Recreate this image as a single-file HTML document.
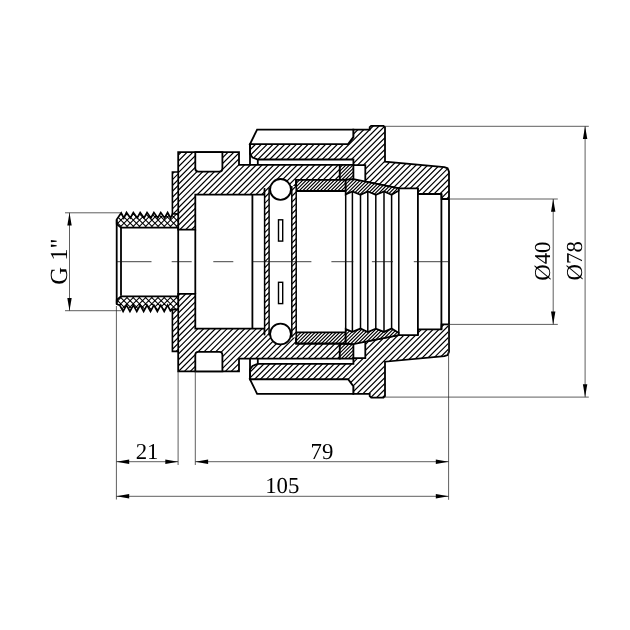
<!DOCTYPE html>
<html><head><meta charset="utf-8"><title>Fitting drawing</title>
<style>
html,body{margin:0;padding:0;background:#fff;}
svg{display:block;will-change:transform;font-family:"Liberation Serif",serif;}
text{fill:#000;text-rendering:geometricPrecision;}
</style></head>
<body>
<svg width="630" height="630" viewBox="0 0 630 630">
<rect x="0" y="0" width="630" height="630" fill="#fff"/>
<clipPath id="c1"><polygon points="178.20,229.60 178.20,152.10 239.00,152.10 239.00,164.80 339.80,164.80 339.80,179.90 296.20,179.90 296.20,189.40 264.60,189.40 264.60,194.70 195.30,194.70 195.30,229.60"/></clipPath><polygon points="178.20,229.60 178.20,152.10 239.00,152.10 239.00,164.80 339.80,164.80 339.80,179.90 296.20,179.90 296.20,189.40 264.60,189.40 264.60,194.70 195.30,194.70 195.30,229.60" fill="#fff"/><path d="M176.50,151.10L97.00,230.60M182.35,151.10L102.85,230.60M188.20,151.10L108.70,230.60M194.05,151.10L114.55,230.60M199.90,151.10L120.40,230.60M205.75,151.10L126.25,230.60M211.60,151.10L132.10,230.60M217.45,151.10L137.95,230.60M223.30,151.10L143.80,230.60M229.15,151.10L149.65,230.60M235.00,151.10L155.50,230.60M240.85,151.10L161.35,230.60M246.70,151.10L167.20,230.60M252.55,151.10L173.05,230.60M258.40,151.10L178.90,230.60M264.25,151.10L184.75,230.60M270.10,151.10L190.60,230.60M275.95,151.10L196.45,230.60M281.80,151.10L202.30,230.60M287.65,151.10L208.15,230.60M293.50,151.10L214.00,230.60M299.35,151.10L219.85,230.60M305.20,151.10L225.70,230.60M311.05,151.10L231.55,230.60M316.90,151.10L237.40,230.60M322.75,151.10L243.25,230.60M328.60,151.10L249.10,230.60M334.45,151.10L254.95,230.60M340.30,151.10L260.80,230.60M346.15,151.10L266.65,230.60M352.00,151.10L272.50,230.60M357.85,151.10L278.35,230.60M363.70,151.10L284.20,230.60M369.55,151.10L290.05,230.60M375.40,151.10L295.90,230.60M381.25,151.10L301.75,230.60M387.10,151.10L307.60,230.60M392.95,151.10L313.45,230.60M398.80,151.10L319.30,230.60M404.65,151.10L325.15,230.60M410.50,151.10L331.00,230.60M416.35,151.10L336.85,230.60M422.20,151.10L342.70,230.60" clip-path="url(#c1)" stroke="#000" stroke-width="1.2" fill="none"/><polygon points="178.20,229.60 178.20,152.10 239.00,152.10 239.00,164.80 339.80,164.80 339.80,179.90 296.20,179.90 296.20,189.40 264.60,189.40 264.60,194.70 195.30,194.70 195.30,229.60" fill="none" stroke="#000" stroke-width="1.8" stroke-linejoin="miter" />
<clipPath id="c2"><polygon points="250.00,144.10 348.10,144.10 353.30,137.10 353.30,129.60 369.70,129.60 369.70,127.20 371.20,125.80 383.50,125.80 385.00,127.20 385.00,161.70 444.40,167.20 447.60,168.30 449.00,171.70 449.00,199.00 441.60,199.00 441.40,194.00 417.90,194.00 417.90,188.30 398.80,188.30 365.30,181.70 365.30,165.20 353.40,165.20 353.40,159.50 257.80,159.50 252.50,157.50 250.00,154.00"/></clipPath><polygon points="250.00,144.10 348.10,144.10 353.30,137.10 353.30,129.60 369.70,129.60 369.70,127.20 371.20,125.80 383.50,125.80 385.00,127.20 385.00,161.70 444.40,167.20 447.60,168.30 449.00,171.70 449.00,199.00 441.60,199.00 441.40,194.00 417.90,194.00 417.90,188.30 398.80,188.30 365.30,181.70 365.30,165.20 353.40,165.20 353.40,159.50 257.80,159.50 252.50,157.50 250.00,154.00" fill="#fff"/><path d="M251.60,124.80L176.40,200.00M257.45,124.80L182.25,200.00M263.30,124.80L188.10,200.00M269.15,124.80L193.95,200.00M275.00,124.80L199.80,200.00M280.85,124.80L205.65,200.00M286.70,124.80L211.50,200.00M292.55,124.80L217.35,200.00M298.40,124.80L223.20,200.00M304.25,124.80L229.05,200.00M310.10,124.80L234.90,200.00M315.95,124.80L240.75,200.00M321.80,124.80L246.60,200.00M327.65,124.80L252.45,200.00M333.50,124.80L258.30,200.00M339.35,124.80L264.15,200.00M345.20,124.80L270.00,200.00M351.05,124.80L275.85,200.00M356.90,124.80L281.70,200.00M362.75,124.80L287.55,200.00M368.60,124.80L293.40,200.00M374.45,124.80L299.25,200.00M380.30,124.80L305.10,200.00M386.15,124.80L310.95,200.00M392.00,124.80L316.80,200.00M397.85,124.80L322.65,200.00M403.70,124.80L328.50,200.00M409.55,124.80L334.35,200.00M415.40,124.80L340.20,200.00M421.25,124.80L346.05,200.00M427.10,124.80L351.90,200.00M432.95,124.80L357.75,200.00M438.80,124.80L363.60,200.00M444.65,124.80L369.45,200.00M450.50,124.80L375.30,200.00M456.35,124.80L381.15,200.00M462.20,124.80L387.00,200.00M468.05,124.80L392.85,200.00M473.90,124.80L398.70,200.00M479.75,124.80L404.55,200.00M485.60,124.80L410.40,200.00M491.45,124.80L416.25,200.00M497.30,124.80L422.10,200.00M503.15,124.80L427.95,200.00M509.00,124.80L433.80,200.00M514.85,124.80L439.65,200.00M520.70,124.80L445.50,200.00M526.55,124.80L451.35,200.00" clip-path="url(#c2)" stroke="#000" stroke-width="1.2" fill="none"/><polygon points="250.00,144.10 348.10,144.10 353.30,137.10 353.30,129.60 369.70,129.60 369.70,127.20 371.20,125.80 383.50,125.80 385.00,127.20 385.00,161.70 444.40,167.20 447.60,168.30 449.00,171.70 449.00,199.00 441.60,199.00 441.40,194.00 417.90,194.00 417.90,188.30 398.80,188.30 365.30,181.70 365.30,165.20 353.40,165.20 353.40,159.50 257.80,159.50 252.50,157.50 250.00,154.00" fill="none" stroke="#000" stroke-width="1.8" stroke-linejoin="miter" />
<polygon points="257.10,129.60 353.30,129.60 353.30,137.10 348.10,144.10 250.00,144.10" fill="#fff" stroke="#000" stroke-width="1.8" stroke-linejoin="miter" />
<clipPath id="c3"><polygon points="339.80,164.80 353.40,164.80 353.40,179.30 339.80,179.90"/></clipPath><polygon points="339.80,164.80 353.40,164.80 353.40,179.30 339.80,179.90" fill="#fff"/><path d="M340.20,163.80L323.10,180.90M343.70,163.80L326.60,180.90M347.20,163.80L330.10,180.90M350.70,163.80L333.60,180.90M354.20,163.80L337.10,180.90M357.70,163.80L340.60,180.90M361.20,163.80L344.10,180.90M364.70,163.80L347.60,180.90M368.20,163.80L351.10,180.90M371.70,163.80L354.60,180.90" clip-path="url(#c3)" stroke="#000" stroke-width="1.15" fill="none"/><polygon points="339.80,164.80 353.40,164.80 353.40,179.30 339.80,179.90" fill="none" stroke="#000" stroke-width="1.8" stroke-linejoin="miter" />
<clipPath id="c4"><polygon points="296.20,179.90 345.70,179.90 345.70,191.00 296.20,191.00"/></clipPath><polygon points="296.20,179.90 345.70,179.90 345.70,191.00 296.20,191.00" fill="#fff"/><path d="M297.10,178.90L284.00,192.00M300.60,178.90L287.50,192.00M304.10,178.90L291.00,192.00M307.60,178.90L294.50,192.00M311.10,178.90L298.00,192.00M314.60,178.90L301.50,192.00M318.10,178.90L305.00,192.00M321.60,178.90L308.50,192.00M325.10,178.90L312.00,192.00M328.60,178.90L315.50,192.00M332.10,178.90L319.00,192.00M335.60,178.90L322.50,192.00M339.10,178.90L326.00,192.00M342.60,178.90L329.50,192.00M346.10,178.90L333.00,192.00M349.60,178.90L336.50,192.00M353.10,178.90L340.00,192.00M356.60,178.90L343.50,192.00M360.10,178.90L347.00,192.00" clip-path="url(#c4)" stroke="#000" stroke-width="1.15" fill="none"/><polygon points="296.20,179.90 345.70,179.90 345.70,191.00 296.20,191.00" fill="none" stroke="#000" stroke-width="1.8" stroke-linejoin="miter" />
<clipPath id="c5"><polygon points="345.70,179.90 353.40,179.20 398.80,188.30 398.80,190.40 391.60,194.80 384.00,191.50 375.80,194.80 367.80,191.40 360.50,194.80 352.40,191.50 345.70,194.30"/></clipPath><polygon points="345.70,179.90 353.40,179.20 398.80,188.30 398.80,190.40 391.60,194.80 384.00,191.50 375.80,194.80 367.80,191.40 360.50,194.80 352.40,191.50 345.70,194.30" fill="#fff"/><path d="M344.80,178.20L327.20,195.80M348.30,178.20L330.70,195.80M351.80,178.20L334.20,195.80M355.30,178.20L337.70,195.80M358.80,178.20L341.20,195.80M362.30,178.20L344.70,195.80M365.80,178.20L348.20,195.80M369.30,178.20L351.70,195.80M372.80,178.20L355.20,195.80M376.30,178.20L358.70,195.80M379.80,178.20L362.20,195.80M383.30,178.20L365.70,195.80M386.80,178.20L369.20,195.80M390.30,178.20L372.70,195.80M393.80,178.20L376.20,195.80M397.30,178.20L379.70,195.80M400.80,178.20L383.20,195.80M404.30,178.20L386.70,195.80M407.80,178.20L390.20,195.80M411.30,178.20L393.70,195.80M414.80,178.20L397.20,195.80M418.30,178.20L400.70,195.80" clip-path="url(#c5)" stroke="#000" stroke-width="1.15" fill="none"/><polygon points="345.70,179.90 353.40,179.20 398.80,188.30 398.80,190.40 391.60,194.80 384.00,191.50 375.80,194.80 367.80,191.40 360.50,194.80 352.40,191.50 345.70,194.30" fill="none" stroke="#000" stroke-width="1.8" stroke-linejoin="miter" />
<clipPath id="c6"><polygon points="172.40,172.00 178.20,172.00 178.20,214.00 172.40,214.00"/></clipPath><polygon points="172.40,172.00 178.20,172.00 178.20,214.00 172.40,214.00" fill="#fff"/><path d="M169.30,171.00L125.30,215.00M175.15,171.00L131.15,215.00M181.00,171.00L137.00,215.00M186.85,171.00L142.85,215.00M192.70,171.00L148.70,215.00M198.55,171.00L154.55,215.00M204.40,171.00L160.40,215.00M210.25,171.00L166.25,215.00M216.10,171.00L172.10,215.00M221.95,171.00L177.95,215.00" clip-path="url(#c6)" stroke="#000" stroke-width="1.2" fill="none"/><polygon points="172.40,172.00 178.20,172.00 178.20,214.00 172.40,214.00" fill="none" stroke="#000" stroke-width="1.6" stroke-linejoin="miter" />
<clipPath id="c7"><polygon points="116.70,224.10 116.70,219.60 121.20,212.90 123.80,218.00 126.50,212.50 130.35,218.00 133.35,212.50 137.20,218.00 140.20,212.50 144.05,218.00 147.05,212.50 150.90,218.00 153.90,212.50 157.75,218.00 160.75,212.50 164.60,218.00 167.60,212.50 170.60,218.00 172.40,214.00 178.20,214.00 178.20,227.60 121.00,227.60"/></clipPath><polygon points="116.70,224.10 116.70,219.60 121.20,212.90 123.80,218.00 126.50,212.50 130.35,218.00 133.35,212.50 137.20,218.00 140.20,212.50 144.05,218.00 147.05,212.50 150.90,218.00 153.90,212.50 157.75,218.00 160.75,212.50 164.60,218.00 167.60,212.50 170.60,218.00 172.40,214.00 178.20,214.00 178.20,227.60 121.00,227.60" fill="#fff"/><path d="M117.10,211.50L100.00,228.60M123.30,211.50L106.20,228.60M129.50,211.50L112.40,228.60M135.70,211.50L118.60,228.60M141.90,211.50L124.80,228.60M148.10,211.50L131.00,228.60M154.30,211.50L137.20,228.60M160.50,211.50L143.40,228.60M166.70,211.50L149.60,228.60M172.90,211.50L155.80,228.60M179.10,211.50L162.00,228.60M185.30,211.50L168.20,228.60M191.50,211.50L174.40,228.60M197.70,211.50L180.60,228.60M99.90,211.50L117.00,228.60M106.10,211.50L123.20,228.60M112.30,211.50L129.40,228.60M118.50,211.50L135.60,228.60M124.70,211.50L141.80,228.60M130.90,211.50L148.00,228.60M137.10,211.50L154.20,228.60M143.30,211.50L160.40,228.60M149.50,211.50L166.60,228.60M155.70,211.50L172.80,228.60M161.90,211.50L179.00,228.60M168.10,211.50L185.20,228.60M174.30,211.50L191.40,228.60M180.50,211.50L197.60,228.60" clip-path="url(#c7)" stroke="#000" stroke-width="1.05" fill="none"/><polygon points="116.70,224.10 116.70,219.60 121.20,212.90 123.80,218.00 126.50,212.50 130.35,218.00 133.35,212.50 137.20,218.00 140.20,212.50 144.05,218.00 147.05,212.50 150.90,218.00 153.90,212.50 157.75,218.00 160.75,212.50 164.60,218.00 167.60,212.50 170.60,218.00 172.40,214.00 178.20,214.00 178.20,227.60 121.00,227.60" fill="none" stroke="#000" stroke-width="1.7" stroke-linejoin="miter" />
<path d="M195.3,152.10 V168.60 Q195.3,171.60 198.3,171.60 H219.4 Q222.4,171.60 222.4,168.60 V152.10 Z" fill="#fff" stroke="#000" stroke-width="1.8"/>
<line x1="250.00" y1="144.10" x2="250.00" y2="164.80" stroke="#000" stroke-width="1.8" />
<line x1="257.80" y1="159.50" x2="257.80" y2="164.80" stroke="#000" stroke-width="1.8" />
<clipPath id="c8"><polygon points="178.20,293.80 178.20,371.30 239.00,371.30 239.00,358.60 339.80,358.60 339.80,343.50 296.20,343.50 296.20,334.00 264.60,334.00 264.60,328.70 195.30,328.70 195.30,293.80"/></clipPath><polygon points="178.20,293.80 178.20,371.30 239.00,371.30 239.00,358.60 339.80,358.60 339.80,343.50 296.20,343.50 296.20,334.00 264.60,334.00 264.60,328.70 195.30,328.70 195.30,293.80" fill="#fff"/><path d="M175.20,292.80L95.70,372.30M181.05,292.80L101.55,372.30M186.90,292.80L107.40,372.30M192.75,292.80L113.25,372.30M198.60,292.80L119.10,372.30M204.45,292.80L124.95,372.30M210.30,292.80L130.80,372.30M216.15,292.80L136.65,372.30M222.00,292.80L142.50,372.30M227.85,292.80L148.35,372.30M233.70,292.80L154.20,372.30M239.55,292.80L160.05,372.30M245.40,292.80L165.90,372.30M251.25,292.80L171.75,372.30M257.10,292.80L177.60,372.30M262.95,292.80L183.45,372.30M268.80,292.80L189.30,372.30M274.65,292.80L195.15,372.30M280.50,292.80L201.00,372.30M286.35,292.80L206.85,372.30M292.20,292.80L212.70,372.30M298.05,292.80L218.55,372.30M303.90,292.80L224.40,372.30M309.75,292.80L230.25,372.30M315.60,292.80L236.10,372.30M321.45,292.80L241.95,372.30M327.30,292.80L247.80,372.30M333.15,292.80L253.65,372.30M339.00,292.80L259.50,372.30M344.85,292.80L265.35,372.30M350.70,292.80L271.20,372.30M356.55,292.80L277.05,372.30M362.40,292.80L282.90,372.30M368.25,292.80L288.75,372.30M374.10,292.80L294.60,372.30M379.95,292.80L300.45,372.30M385.80,292.80L306.30,372.30M391.65,292.80L312.15,372.30M397.50,292.80L318.00,372.30M403.35,292.80L323.85,372.30M409.20,292.80L329.70,372.30M415.05,292.80L335.55,372.30M420.90,292.80L341.40,372.30" clip-path="url(#c8)" stroke="#000" stroke-width="1.2" fill="none"/><polygon points="178.20,293.80 178.20,371.30 239.00,371.30 239.00,358.60 339.80,358.60 339.80,343.50 296.20,343.50 296.20,334.00 264.60,334.00 264.60,328.70 195.30,328.70 195.30,293.80" fill="none" stroke="#000" stroke-width="1.8" stroke-linejoin="miter" />
<clipPath id="c9"><polygon points="250.00,379.30 348.10,379.30 353.30,386.30 353.30,393.80 369.70,393.80 369.70,396.20 371.20,397.60 383.50,397.60 385.00,396.20 385.00,361.70 444.40,356.20 447.60,355.10 449.00,351.70 449.00,324.40 441.60,324.40 441.40,329.40 417.90,329.40 417.90,335.10 398.80,335.10 365.30,341.70 365.30,358.20 353.40,358.20 353.40,363.90 257.80,363.90 252.50,365.90 250.00,369.40"/></clipPath><polygon points="250.00,379.30 348.10,379.30 353.30,386.30 353.30,393.80 369.70,393.80 369.70,396.20 371.20,397.60 383.50,397.60 385.00,396.20 385.00,361.70 444.40,356.20 447.60,355.10 449.00,351.70 449.00,324.40 441.60,324.40 441.40,329.40 417.90,329.40 417.90,335.10 398.80,335.10 365.30,341.70 365.30,358.20 353.40,358.20 353.40,363.90 257.80,363.90 252.50,365.90 250.00,369.40" fill="#fff"/><path d="M251.90,323.40L176.70,398.60M257.75,323.40L182.55,398.60M263.60,323.40L188.40,398.60M269.45,323.40L194.25,398.60M275.30,323.40L200.10,398.60M281.15,323.40L205.95,398.60M287.00,323.40L211.80,398.60M292.85,323.40L217.65,398.60M298.70,323.40L223.50,398.60M304.55,323.40L229.35,398.60M310.40,323.40L235.20,398.60M316.25,323.40L241.05,398.60M322.10,323.40L246.90,398.60M327.95,323.40L252.75,398.60M333.80,323.40L258.60,398.60M339.65,323.40L264.45,398.60M345.50,323.40L270.30,398.60M351.35,323.40L276.15,398.60M357.20,323.40L282.00,398.60M363.05,323.40L287.85,398.60M368.90,323.40L293.70,398.60M374.75,323.40L299.55,398.60M380.60,323.40L305.40,398.60M386.45,323.40L311.25,398.60M392.30,323.40L317.10,398.60M398.15,323.40L322.95,398.60M404.00,323.40L328.80,398.60M409.85,323.40L334.65,398.60M415.70,323.40L340.50,398.60M421.55,323.40L346.35,398.60M427.40,323.40L352.20,398.60M433.25,323.40L358.05,398.60M439.10,323.40L363.90,398.60M444.95,323.40L369.75,398.60M450.80,323.40L375.60,398.60M456.65,323.40L381.45,398.60M462.50,323.40L387.30,398.60M468.35,323.40L393.15,398.60M474.20,323.40L399.00,398.60M480.05,323.40L404.85,398.60M485.90,323.40L410.70,398.60M491.75,323.40L416.55,398.60M497.60,323.40L422.40,398.60M503.45,323.40L428.25,398.60M509.30,323.40L434.10,398.60M515.15,323.40L439.95,398.60M521.00,323.40L445.80,398.60M526.85,323.40L451.65,398.60" clip-path="url(#c9)" stroke="#000" stroke-width="1.2" fill="none"/><polygon points="250.00,379.30 348.10,379.30 353.30,386.30 353.30,393.80 369.70,393.80 369.70,396.20 371.20,397.60 383.50,397.60 385.00,396.20 385.00,361.70 444.40,356.20 447.60,355.10 449.00,351.70 449.00,324.40 441.60,324.40 441.40,329.40 417.90,329.40 417.90,335.10 398.80,335.10 365.30,341.70 365.30,358.20 353.40,358.20 353.40,363.90 257.80,363.90 252.50,365.90 250.00,369.40" fill="none" stroke="#000" stroke-width="1.8" stroke-linejoin="miter" />
<polygon points="257.10,393.80 353.30,393.80 353.30,386.30 348.10,379.30 250.00,379.30" fill="#fff" stroke="#000" stroke-width="1.8" stroke-linejoin="miter" />
<clipPath id="c10"><polygon points="339.80,358.60 353.40,358.60 353.40,344.10 339.80,343.50"/></clipPath><polygon points="339.80,358.60 353.40,358.60 353.40,344.10 339.80,343.50" fill="#fff"/><path d="M340.00,342.50L322.90,359.60M343.50,342.50L326.40,359.60M347.00,342.50L329.90,359.60M350.50,342.50L333.40,359.60M354.00,342.50L336.90,359.60M357.50,342.50L340.40,359.60M361.00,342.50L343.90,359.60M364.50,342.50L347.40,359.60M368.00,342.50L350.90,359.60M371.50,342.50L354.40,359.60" clip-path="url(#c10)" stroke="#000" stroke-width="1.15" fill="none"/><polygon points="339.80,358.60 353.40,358.60 353.40,344.10 339.80,343.50" fill="none" stroke="#000" stroke-width="1.8" stroke-linejoin="miter" />
<clipPath id="c11"><polygon points="296.20,343.50 345.70,343.50 345.70,332.40 296.20,332.40"/></clipPath><polygon points="296.20,343.50 345.70,343.50 345.70,332.40 296.20,332.40" fill="#fff"/><path d="M295.10,331.40L282.00,344.50M298.60,331.40L285.50,344.50M302.10,331.40L289.00,344.50M305.60,331.40L292.50,344.50M309.10,331.40L296.00,344.50M312.60,331.40L299.50,344.50M316.10,331.40L303.00,344.50M319.60,331.40L306.50,344.50M323.10,331.40L310.00,344.50M326.60,331.40L313.50,344.50M330.10,331.40L317.00,344.50M333.60,331.40L320.50,344.50M337.10,331.40L324.00,344.50M340.60,331.40L327.50,344.50M344.10,331.40L331.00,344.50M347.60,331.40L334.50,344.50M351.10,331.40L338.00,344.50M354.60,331.40L341.50,344.50M358.10,331.40L345.00,344.50" clip-path="url(#c11)" stroke="#000" stroke-width="1.15" fill="none"/><polygon points="296.20,343.50 345.70,343.50 345.70,332.40 296.20,332.40" fill="none" stroke="#000" stroke-width="1.8" stroke-linejoin="miter" />
<clipPath id="c12"><polygon points="345.70,343.50 353.40,344.20 398.80,335.10 398.80,333.00 391.60,328.60 384.00,331.90 375.80,328.60 367.80,332.00 360.50,328.60 352.40,331.90 345.70,329.10"/></clipPath><polygon points="345.70,343.50 353.40,344.20 398.80,335.10 398.80,333.00 391.60,328.60 384.00,331.90 375.80,328.60 367.80,332.00 360.50,328.60 352.40,331.90 345.70,329.10" fill="#fff"/><path d="M345.90,327.60L328.30,345.20M349.40,327.60L331.80,345.20M352.90,327.60L335.30,345.20M356.40,327.60L338.80,345.20M359.90,327.60L342.30,345.20M363.40,327.60L345.80,345.20M366.90,327.60L349.30,345.20M370.40,327.60L352.80,345.20M373.90,327.60L356.30,345.20M377.40,327.60L359.80,345.20M380.90,327.60L363.30,345.20M384.40,327.60L366.80,345.20M387.90,327.60L370.30,345.20M391.40,327.60L373.80,345.20M394.90,327.60L377.30,345.20M398.40,327.60L380.80,345.20M401.90,327.60L384.30,345.20M405.40,327.60L387.80,345.20M408.90,327.60L391.30,345.20M412.40,327.60L394.80,345.20M415.90,327.60L398.30,345.20" clip-path="url(#c12)" stroke="#000" stroke-width="1.15" fill="none"/><polygon points="345.70,343.50 353.40,344.20 398.80,335.10 398.80,333.00 391.60,328.60 384.00,331.90 375.80,328.60 367.80,332.00 360.50,328.60 352.40,331.90 345.70,329.10" fill="none" stroke="#000" stroke-width="1.8" stroke-linejoin="miter" />
<clipPath id="c13"><polygon points="172.40,351.40 178.20,351.40 178.20,309.40 172.40,309.40"/></clipPath><polygon points="172.40,351.40 178.20,351.40 178.20,309.40 172.40,309.40" fill="#fff"/><path d="M172.30,308.40L128.30,352.40M178.15,308.40L134.15,352.40M184.00,308.40L140.00,352.40M189.85,308.40L145.85,352.40M195.70,308.40L151.70,352.40M201.55,308.40L157.55,352.40M207.40,308.40L163.40,352.40M213.25,308.40L169.25,352.40M219.10,308.40L175.10,352.40M224.95,308.40L180.95,352.40" clip-path="url(#c13)" stroke="#000" stroke-width="1.2" fill="none"/><polygon points="172.40,351.40 178.20,351.40 178.20,309.40 172.40,309.40" fill="none" stroke="#000" stroke-width="1.6" stroke-linejoin="miter" />
<clipPath id="c14"><polygon points="116.70,299.90 116.70,304.20 119.70,305.20 123.10,311.40 126.50,305.20 129.95,311.40 133.35,305.20 136.80,311.40 140.20,305.20 143.65,311.40 147.05,305.20 150.50,311.40 153.90,305.20 157.35,311.40 160.75,305.20 164.20,311.40 167.60,305.20 170.40,311.00 172.40,309.40 178.20,309.40 178.20,296.40 121.00,296.40"/></clipPath><polygon points="116.70,299.90 116.70,304.20 119.70,305.20 123.10,311.40 126.50,305.20 129.95,311.40 133.35,305.20 136.80,311.40 140.20,305.20 143.65,311.40 147.05,305.20 150.50,311.40 153.90,305.20 157.35,311.40 160.75,305.20 164.20,311.40 167.60,305.20 170.40,311.00 172.40,309.40 178.20,309.40 178.20,296.40 121.00,296.40" fill="#fff"/><path d="M116.80,295.40L99.80,312.40M123.00,295.40L106.00,312.40M129.20,295.40L112.20,312.40M135.40,295.40L118.40,312.40M141.60,295.40L124.60,312.40M147.80,295.40L130.80,312.40M154.00,295.40L137.00,312.40M160.20,295.40L143.20,312.40M166.40,295.40L149.40,312.40M172.60,295.40L155.60,312.40M178.80,295.40L161.80,312.40M185.00,295.40L168.00,312.40M191.20,295.40L174.20,312.40M197.40,295.40L180.40,312.40M100.00,295.40L117.00,312.40M106.20,295.40L123.20,312.40M112.40,295.40L129.40,312.40M118.60,295.40L135.60,312.40M124.80,295.40L141.80,312.40M131.00,295.40L148.00,312.40M137.20,295.40L154.20,312.40M143.40,295.40L160.40,312.40M149.60,295.40L166.60,312.40M155.80,295.40L172.80,312.40M162.00,295.40L179.00,312.40M168.20,295.40L185.20,312.40M174.40,295.40L191.40,312.40M180.60,295.40L197.60,312.40" clip-path="url(#c14)" stroke="#000" stroke-width="1.05" fill="none"/><polygon points="116.70,299.90 116.70,304.20 119.70,305.20 123.10,311.40 126.50,305.20 129.95,311.40 133.35,305.20 136.80,311.40 140.20,305.20 143.65,311.40 147.05,305.20 150.50,311.40 153.90,305.20 157.35,311.40 160.75,305.20 164.20,311.40 167.60,305.20 170.40,311.00 172.40,309.40 178.20,309.40 178.20,296.40 121.00,296.40" fill="none" stroke="#000" stroke-width="1.7" stroke-linejoin="miter" />
<path d="M195.3,371.30 V354.80 Q195.3,351.80 198.3,351.80 H219.4 Q222.4,351.80 222.4,354.80 V371.30 Z" fill="#fff" stroke="#000" stroke-width="1.8"/>
<line x1="250.00" y1="379.30" x2="250.00" y2="358.60" stroke="#000" stroke-width="1.8" />
<line x1="257.80" y1="363.90" x2="257.80" y2="358.60" stroke="#000" stroke-width="1.8" />
<clipPath id="c15"><polygon points="264.60,188.00 269.10,188.00 269.10,335.40 264.60,335.40"/></clipPath><polygon points="264.60,188.00 269.10,188.00 269.10,335.40 264.60,335.40" fill="#fff"/><path d="M263.45,187.00L114.05,336.40M269.30,187.00L119.90,336.40M275.15,187.00L125.75,336.40M281.00,187.00L131.60,336.40M286.85,187.00L137.45,336.40M292.70,187.00L143.30,336.40M298.55,187.00L149.15,336.40M304.40,187.00L155.00,336.40M310.25,187.00L160.85,336.40M316.10,187.00L166.70,336.40M321.95,187.00L172.55,336.40M327.80,187.00L178.40,336.40M333.65,187.00L184.25,336.40M339.50,187.00L190.10,336.40M345.35,187.00L195.95,336.40M351.20,187.00L201.80,336.40M357.05,187.00L207.65,336.40M362.90,187.00L213.50,336.40M368.75,187.00L219.35,336.40M374.60,187.00L225.20,336.40M380.45,187.00L231.05,336.40M386.30,187.00L236.90,336.40M392.15,187.00L242.75,336.40M398.00,187.00L248.60,336.40M403.85,187.00L254.45,336.40M409.70,187.00L260.30,336.40M415.55,187.00L266.15,336.40M421.40,187.00L272.00,336.40" clip-path="url(#c15)" stroke="#000" stroke-width="1.2" fill="none"/>
<clipPath id="c16"><polygon points="291.80,186.00 296.20,186.00 296.20,337.40 291.80,337.40"/></clipPath><polygon points="291.80,186.00 296.20,186.00 296.20,337.40 291.80,337.40" fill="#fff"/><path d="M291.35,185.00L137.95,338.40M297.20,185.00L143.80,338.40M303.05,185.00L149.65,338.40M308.90,185.00L155.50,338.40M314.75,185.00L161.35,338.40M320.60,185.00L167.20,338.40M326.45,185.00L173.05,338.40M332.30,185.00L178.90,338.40M338.15,185.00L184.75,338.40M344.00,185.00L190.60,338.40M349.85,185.00L196.45,338.40M355.70,185.00L202.30,338.40M361.55,185.00L208.15,338.40M367.40,185.00L214.00,338.40M373.25,185.00L219.85,338.40M379.10,185.00L225.70,338.40M384.95,185.00L231.55,338.40M390.80,185.00L237.40,338.40M396.65,185.00L243.25,338.40M402.50,185.00L249.10,338.40M408.35,185.00L254.95,338.40M414.20,185.00L260.80,338.40M420.05,185.00L266.65,338.40M425.90,185.00L272.50,338.40M431.75,185.00L278.35,338.40M437.60,185.00L284.20,338.40M443.45,185.00L290.05,338.40M449.30,185.00L295.90,338.40" clip-path="url(#c16)" stroke="#000" stroke-width="1.2" fill="none"/>
<line x1="264.60" y1="188.00" x2="264.60" y2="335.40" stroke="#000" stroke-width="1.5" />
<line x1="269.10" y1="188.00" x2="269.10" y2="335.40" stroke="#000" stroke-width="1.5" />
<line x1="291.80" y1="186.00" x2="291.80" y2="337.40" stroke="#000" stroke-width="1.5" />
<line x1="296.20" y1="179.90" x2="296.20" y2="343.50" stroke="#000" stroke-width="1.5" />
<circle cx="280.5" cy="189.40" r="10.4" fill="#fff" stroke="#000" stroke-width="1.8"/>
<circle cx="280.5" cy="334.00" r="10.4" fill="#fff" stroke="#000" stroke-width="1.8"/>
<rect x="278.5" y="219.80" width="4.2" height="21.3" fill="#fff" stroke="#000" stroke-width="1.4"/>
<rect x="278.5" y="282.30" width="4.2" height="21.3" fill="#fff" stroke="#000" stroke-width="1.4"/>
<line x1="116.70" y1="219.60" x2="116.70" y2="303.80" stroke="#000" stroke-width="1.8" />
<line x1="121.00" y1="227.60" x2="121.00" y2="295.80" stroke="#000" stroke-width="1.8" />
<line x1="178.20" y1="227.60" x2="178.20" y2="295.80" stroke="#000" stroke-width="1.8" />
<line x1="195.30" y1="229.60" x2="195.30" y2="293.80" stroke="#000" stroke-width="1.8" />
<line x1="252.40" y1="194.70" x2="252.40" y2="328.70" stroke="#000" stroke-width="1.8" />
<line x1="345.70" y1="194.30" x2="345.70" y2="329.10" stroke="#000" stroke-width="1.5" />
<line x1="352.40" y1="191.50" x2="352.40" y2="331.90" stroke="#000" stroke-width="1.5" />
<line x1="360.50" y1="194.80" x2="360.50" y2="328.60" stroke="#000" stroke-width="1.5" />
<line x1="367.80" y1="191.40" x2="367.80" y2="332.00" stroke="#000" stroke-width="1.5" />
<line x1="375.80" y1="194.80" x2="375.80" y2="328.60" stroke="#000" stroke-width="1.5" />
<line x1="384.00" y1="191.50" x2="384.00" y2="331.90" stroke="#000" stroke-width="1.5" />
<line x1="391.60" y1="194.80" x2="391.60" y2="328.60" stroke="#000" stroke-width="1.5" />
<line x1="398.80" y1="190.40" x2="398.80" y2="333.00" stroke="#000" stroke-width="1.5" />
<line x1="417.90" y1="188.30" x2="417.90" y2="335.10" stroke="#000" stroke-width="1.8" />
<line x1="441.40" y1="194.00" x2="441.40" y2="329.40" stroke="#000" stroke-width="1.8" />
<line x1="449.00" y1="199.00" x2="449.00" y2="324.40" stroke="#000" stroke-width="1.8" />
<line x1="116.70" y1="261.70" x2="151.50" y2="261.70" stroke="#111" stroke-width="0.8" />
<line x1="171.70" y1="261.70" x2="191.70" y2="261.70" stroke="#111" stroke-width="0.8" />
<line x1="213.30" y1="261.70" x2="233.30" y2="261.70" stroke="#111" stroke-width="0.8" />
<line x1="252.40" y1="261.70" x2="311.40" y2="261.70" stroke="#111" stroke-width="0.8" />
<line x1="331.40" y1="261.70" x2="353.30" y2="261.70" stroke="#111" stroke-width="0.8" />
<line x1="371.90" y1="261.70" x2="392.90" y2="261.70" stroke="#111" stroke-width="0.8" />
<line x1="413.80" y1="261.70" x2="448.10" y2="261.70" stroke="#111" stroke-width="0.8" />
<line x1="65.00" y1="212.80" x2="121.00" y2="212.80" stroke="#2a2a2a" stroke-width="0.75" />
<line x1="65.00" y1="310.70" x2="121.00" y2="310.70" stroke="#2a2a2a" stroke-width="0.75" />
<line x1="69.50" y1="212.80" x2="69.50" y2="310.70" stroke="#2a2a2a" stroke-width="0.75" />
<polygon points="69.50,212.80 71.70,225.60 67.30,225.60" fill="#000"/>
<polygon points="69.50,310.70 67.30,297.90 71.70,297.90" fill="#000"/>
<line x1="116.40" y1="306.00" x2="116.40" y2="499.50" stroke="#2a2a2a" stroke-width="0.75" />
<line x1="178.10" y1="371.40" x2="178.10" y2="465.00" stroke="#2a2a2a" stroke-width="0.75" />
<line x1="195.30" y1="371.40" x2="195.30" y2="465.00" stroke="#2a2a2a" stroke-width="0.75" />
<line x1="448.60" y1="324.40" x2="448.60" y2="499.80" stroke="#2a2a2a" stroke-width="0.75" />
<line x1="116.40" y1="461.70" x2="178.10" y2="461.70" stroke="#2a2a2a" stroke-width="0.75" />
<polygon points="116.40,461.70 129.20,459.50 129.20,463.90" fill="#000"/>
<polygon points="178.10,461.70 165.30,463.90 165.30,459.50" fill="#000"/>
<line x1="195.30" y1="461.70" x2="448.60" y2="461.70" stroke="#2a2a2a" stroke-width="0.75" />
<polygon points="195.30,461.70 208.10,459.50 208.10,463.90" fill="#000"/>
<polygon points="448.60,461.70 435.80,463.90 435.80,459.50" fill="#000"/>
<line x1="116.40" y1="496.30" x2="448.60" y2="496.30" stroke="#2a2a2a" stroke-width="0.75" />
<polygon points="116.40,496.30 129.20,494.10 129.20,498.50" fill="#000"/>
<polygon points="448.60,496.30 435.80,498.50 435.80,494.10" fill="#000"/>
<line x1="449.00" y1="199.00" x2="557.80" y2="199.00" stroke="#2a2a2a" stroke-width="0.75" />
<line x1="449.00" y1="324.40" x2="557.80" y2="324.40" stroke="#2a2a2a" stroke-width="0.75" />
<line x1="553.20" y1="199.00" x2="553.20" y2="324.40" stroke="#2a2a2a" stroke-width="0.75" />
<polygon points="553.20,199.00 555.40,211.80 551.00,211.80" fill="#000"/>
<polygon points="553.20,324.40 551.00,311.60 555.40,311.60" fill="#000"/>
<line x1="385.00" y1="126.30" x2="588.80" y2="126.30" stroke="#2a2a2a" stroke-width="0.75" />
<line x1="385.00" y1="397.10" x2="588.80" y2="397.10" stroke="#2a2a2a" stroke-width="0.75" />
<line x1="585.10" y1="126.30" x2="585.10" y2="397.10" stroke="#2a2a2a" stroke-width="0.75" />
<polygon points="585.10,126.30 587.30,139.10 582.90,139.10" fill="#000"/>
<polygon points="585.10,397.10 582.90,384.30 587.30,384.30" fill="#000"/>
<text x="147.10" y="458.80" font-size="22.8" text-anchor="middle">21</text>
<text x="322.00" y="459.00" font-size="22.8" text-anchor="middle">79</text>
<text x="282.30" y="492.60" font-size="22.8" text-anchor="middle">105</text>
<text x="66.80" y="261.60" font-size="24.6" text-anchor="middle" transform="rotate(-90 66.80 261.60)">G 1&quot;</text>
<text x="550.40" y="261.20" font-size="22.8" text-anchor="middle" transform="rotate(-90 550.40 261.20)">&#216;40</text>
<text x="582.10" y="260.80" font-size="22.8" text-anchor="middle" transform="rotate(-90 582.10 260.80)">&#216;78</text>
</svg>
</body></html>
